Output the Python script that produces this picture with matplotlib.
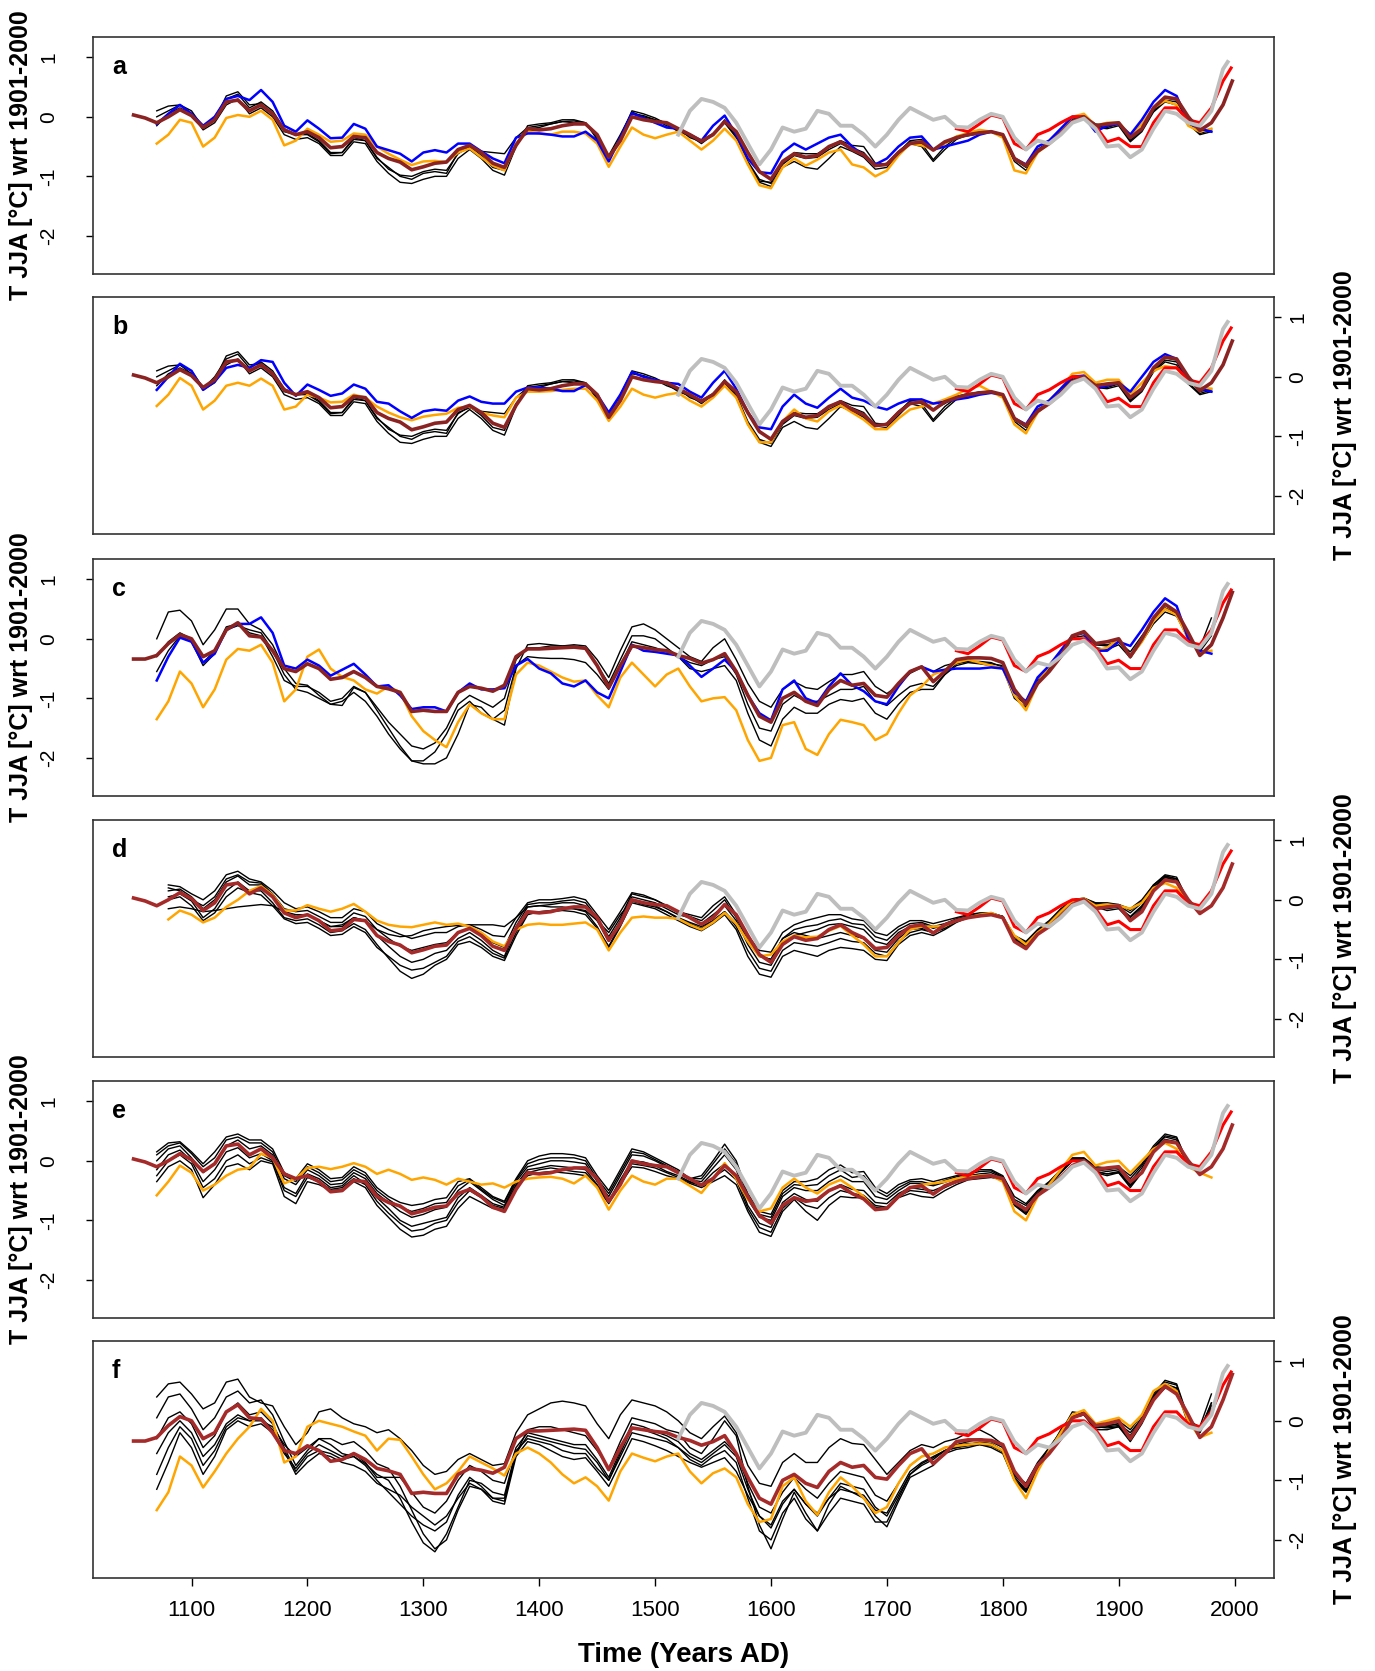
import numpy as np
import matplotlib
matplotlib.use("Agg")
import matplotlib.pyplot as plt

plt.rcParams["font.family"] = ["Liberation Sans", "DejaVu Sans"]


def span(start, vals, end=None):
    # decadal values starting at `start`; optional last year replaces final decade
    yr = start + 10 * np.arange(len(vals))
    if end is not None:
        yr[-1] = end
    return yr, np.array(vals, dtype=float)


# ---------------- shared series ----------------
# main reconstruction (panels a, b, d, e)
brown1 = [0.03, -0.02, -0.1, 0.0, 0.12, 0.02,
          -0.18, -0.05, 0.25, 0.28, 0.1, 0.2, 0.05, -0.22, -0.3, -0.25,
          -0.35, -0.52, -0.5, -0.33, -0.35, -0.6, -0.7, -0.76, -0.89, -0.84,
          -0.78, -0.76, -0.55, -0.48, -0.6, -0.78, -0.85, -0.48, -0.2, -0.22,
          -0.2, -0.15, -0.12, -0.12, -0.3, -0.68, -0.4, 0.0, -0.05, -0.08,
          -0.1, -0.2, -0.3, -0.41, -0.3, -0.08, -0.25, -0.6, -0.92, -1.05,
          -0.75, -0.62, -0.68, -0.65, -0.5, -0.42, -0.55, -0.64, -0.82, -0.8,
          -0.6, -0.45, -0.42, -0.56, -0.42, -0.35, -0.3, -0.27, -0.25, -0.3,
          -0.7, -0.82, -0.58, -0.45, -0.28, -0.08, 0.0, -0.15, -0.12, -0.1,
          -0.35, -0.2, 0.15, 0.33, 0.3, 0.0, -0.23, -0.1, 0.2, 0.6]
# main reconstruction (panels c, f)
brown2 = [-0.34, -0.34, -0.28, -0.08, 0.07, 0.0,
          -0.3, -0.2, 0.15, 0.27, 0.05, 0.03, -0.2, -0.5, -0.55, -0.42,
          -0.5, -0.68, -0.65, -0.55, -0.65, -0.8, -0.84, -0.9, -1.22, -1.2,
          -1.22, -1.22, -0.9, -0.8, -0.83, -0.88, -0.78, -0.3, -0.17, -0.17,
          -0.16, -0.15, -0.14, -0.16, -0.45, -0.82, -0.45, -0.12, -0.15, -0.18,
          -0.2, -0.28, -0.33, -0.41, -0.35, -0.25, -0.55, -0.95, -1.3, -1.4,
          -1.0, -0.9, -1.05, -1.12, -0.85, -0.7, -0.78, -0.75, -0.95, -0.98,
          -0.75, -0.55, -0.47, -0.72, -0.55, -0.35, -0.32, -0.32, -0.33, -0.4,
          -0.85, -1.1, -0.75, -0.55, -0.3, 0.05, 0.12, -0.08, -0.05, 0.0,
          -0.3, 0.0, 0.35, 0.58, 0.45, 0.1, -0.28, -0.1, 0.35, 0.78]
gray_vals = [-0.3, 0.1, 0.3, 0.25, 0.15, -0.1, -0.45, -0.8, -0.55,
             -0.18, -0.25, -0.2, 0.1, 0.05, -0.15, -0.15, -0.3, -0.5, -0.3,
             -0.05, 0.15, 0.05, -0.05, 0.0, -0.17, -0.18, -0.05, 0.05, 0.0,
             -0.35, -0.55, -0.4, -0.45, -0.3, -0.1, -0.03, -0.2, -0.5, -0.48,
             -0.68, -0.55, -0.2, 0.1, 0.05, -0.1, -0.15, 0.1, 0.8, 0.92]
red_vals = [-0.2, -0.25, -0.12, 0.03, -0.02,
            -0.45, -0.55, -0.3, -0.22, -0.1, 0.0, 0.0, -0.15, -0.42, -0.36,
            -0.5, -0.5, -0.1, 0.15, 0.15, -0.05, -0.1, 0.15, 0.6, 0.82]

# ---------------- panel a / b ----------------
orange_a = [-0.45, -0.3, -0.05, -0.1,
            -0.5, -0.35, -0.02, 0.03, 0.0, 0.1, -0.05, -0.48, -0.4, -0.2,
            -0.3, -0.42, -0.4, -0.28, -0.3, -0.5, -0.62, -0.72, -0.81, -0.75,
            -0.74, -0.76, -0.6, -0.53, -0.68, -0.82, -0.9, -0.45, -0.25, -0.28,
            -0.3, -0.25, -0.25, -0.28, -0.45, -0.84, -0.5, -0.18, -0.3, -0.36,
            -0.3, -0.25, -0.4, -0.55, -0.4, -0.2, -0.4, -0.8, -1.15, -1.2,
            -0.85, -0.7, -0.82, -0.72, -0.6, -0.55, -0.8, -0.85, -1.0, -0.9,
            -0.65, -0.45, -0.48, -0.55, -0.45, -0.33, -0.27, -0.22, -0.25, -0.35,
            -0.9, -0.95, -0.6, -0.45, -0.25, 0.0, 0.05, -0.15, -0.1, -0.1,
            -0.3, -0.12, 0.15, 0.27, 0.2, -0.15, -0.25, -0.2]
blue_a = [-0.12, 0.05, 0.2, 0.05,
          -0.15, 0.0, 0.3, 0.35, 0.28, 0.45, 0.25, -0.15, -0.25, -0.06,
          -0.2, -0.36, -0.35, -0.12, -0.2, -0.5, -0.56, -0.62, -0.75, -0.6,
          -0.56, -0.6, -0.45, -0.45, -0.58, -0.7, -0.78, -0.35, -0.28, -0.28,
          -0.3, -0.33, -0.33, -0.25, -0.4, -0.75, -0.35, 0.06, -0.02, -0.1,
          -0.18, -0.2, -0.3, -0.4, -0.15, 0.02, -0.3, -0.7, -0.93, -0.95,
          -0.6, -0.45, -0.55, -0.45, -0.35, -0.3, -0.5, -0.65, -0.8, -0.7,
          -0.5, -0.35, -0.33, -0.55, -0.5, -0.45, -0.4, -0.3, -0.25, -0.3,
          -0.7, -0.8, -0.5, -0.4, -0.2, 0.0, 0.0, -0.25, -0.15, -0.12,
          -0.3, -0.05, 0.25, 0.45, 0.35, -0.1, -0.2, -0.25]
black_a1 = [0.0, 0.1, 0.2, 0.1,
            -0.18, -0.05, 0.35, 0.42, 0.2, 0.22, 0.05, -0.25, -0.3, -0.28,
            -0.4, -0.6, -0.6, -0.38, -0.4, -0.7, -0.85, -1.0, -1.05, -0.95,
            -0.92, -0.95, -0.6, -0.52, -0.58, -0.6, -0.62, -0.35, -0.18, -0.15,
            -0.12, -0.08, -0.07, -0.1, -0.35, -0.65, -0.3, 0.08, 0.0, -0.05,
            -0.1, -0.2, -0.35, -0.42, -0.3, -0.05, -0.3, -0.75, -1.05, -1.12,
            -0.8, -0.65, -0.7, -0.68, -0.55, -0.45, -0.52, -0.6, -0.82, -0.78,
            -0.58, -0.42, -0.45, -0.72, -0.5, -0.35, -0.32, -0.28, -0.25, -0.32,
            -0.72, -0.85, -0.58, -0.42, -0.25, -0.05, 0.0, -0.15, -0.18, -0.12,
            -0.4, -0.22, 0.1, 0.28, 0.25, -0.1, -0.28, -0.22]
black_a2 = [-0.15, 0.05, 0.15, 0.05,
            -0.22, -0.1, 0.2, 0.3, 0.05, 0.15, 0.0, -0.3, -0.38, -0.35,
            -0.45, -0.65, -0.65, -0.42, -0.45, -0.75, -0.95, -1.1, -1.12, -1.05,
            -1.0, -1.0, -0.7, -0.55, -0.7, -0.9, -0.98, -0.5, -0.15, -0.12,
            -0.1, -0.05, -0.05, -0.1, -0.38, -0.72, -0.35, 0.1, 0.05, -0.02,
            -0.12, -0.25, -0.32, -0.45, -0.3, -0.1, -0.35, -0.8, -1.1, -1.17,
            -0.85, -0.75, -0.85, -0.88, -0.7, -0.5, -0.58, -0.68, -0.88, -0.85,
            -0.65, -0.45, -0.5, -0.75, -0.55, -0.38, -0.3, -0.25, -0.25, -0.33,
            -0.75, -0.9, -0.6, -0.45, -0.25, -0.05, 0.02, -0.18, -0.2, -0.15,
            -0.42, -0.25, 0.08, 0.25, 0.2, -0.12, -0.3, -0.25]
black_a3 = [0.1, 0.18, 0.2, 0.05,
            -0.2, 0.0, 0.3, 0.38, 0.15, 0.25, 0.1, -0.2, -0.3, -0.3,
            -0.42, -0.62, -0.6, -0.35, -0.4, -0.68, -0.88, -0.98, -1.0, -0.92,
            -0.88, -0.9, -0.62, -0.5, -0.65, -0.85, -0.9, -0.45, -0.2, -0.18,
            -0.12, -0.08, -0.1, -0.12, -0.33, -0.68, -0.38, 0.05, 0.02, -0.05,
            -0.15, -0.22, -0.3, -0.4, -0.28, -0.1, -0.32, -0.78, -1.08, -1.1,
            -0.78, -0.6, -0.62, -0.62, -0.5, -0.4, -0.48, -0.5, -0.78, -0.8,
            -0.6, -0.4, -0.38, -0.55, -0.45, -0.33, -0.28, -0.27, -0.25, -0.3,
            -0.7, -0.82, -0.55, -0.42, -0.22, -0.02, 0.02, -0.12, -0.15, -0.1,
            -0.38, -0.2, 0.12, 0.32, 0.28, -0.05, -0.25, -0.2]
blue_b = [-0.22, 0.0, 0.22, 0.1,
          -0.22, -0.08, 0.15, 0.2, 0.15, 0.28, 0.25, -0.1, -0.32, -0.13,
          -0.22, -0.32, -0.28, -0.13, -0.2, -0.42, -0.45, -0.58, -0.69, -0.58,
          -0.55, -0.57, -0.4, -0.33, -0.42, -0.45, -0.45, -0.25, -0.18, -0.18,
          -0.2, -0.24, -0.24, -0.14, -0.3, -0.6, -0.3, 0.08, 0.0, -0.05,
          -0.1, -0.12, -0.25, -0.35, -0.1, 0.1, -0.2, -0.6, -0.85, -0.88,
          -0.5, -0.3, -0.45, -0.52, -0.35, -0.2, -0.35, -0.4, -0.5, -0.55,
          -0.45, -0.38, -0.38, -0.45, -0.42, -0.38, -0.35, -0.3, -0.27, -0.3,
          -0.7, -0.8, -0.5, -0.4, -0.2, 0.0, 0.02, -0.2, -0.15, -0.1,
          -0.25, 0.0, 0.25, 0.38, 0.3, -0.05, -0.2, -0.25]
orange_b = [-0.49, -0.3, -0.02, -0.15,
            -0.55, -0.4, -0.15, -0.1, -0.15, -0.03, -0.15, -0.55, -0.5, -0.3,
            -0.35, -0.43, -0.42, -0.3, -0.35, -0.5, -0.6, -0.68, -0.73, -0.67,
            -0.64, -0.62, -0.52, -0.5, -0.6, -0.65, -0.68, -0.35, -0.25, -0.25,
            -0.24, -0.22, -0.2, -0.2, -0.4, -0.74, -0.5, -0.2, -0.3, -0.35,
            -0.3, -0.27, -0.4, -0.5, -0.35, -0.15, -0.35, -0.8, -1.1, -1.1,
            -0.75, -0.55, -0.7, -0.75, -0.58, -0.48, -0.6, -0.72, -0.88, -0.88,
            -0.7, -0.55, -0.5, -0.45, -0.38, -0.3, -0.2, -0.15, -0.25, -0.35,
            -0.8, -0.95, -0.6, -0.4, -0.2, 0.05, 0.08, -0.1, -0.05, -0.05,
            -0.3, -0.1, 0.1, 0.18, 0.15, -0.1, -0.18, -0.2]

# ---------------- panel c ----------------
blue_c = [-0.7, -0.3, 0.02, -0.05,
          -0.4, -0.25, 0.15, 0.25, 0.25, 0.36, 0.1, -0.45, -0.5, -0.35,
          -0.45, -0.62, -0.52, -0.42, -0.6, -0.8, -0.78, -0.95, -1.18, -1.15,
          -1.15, -1.22, -0.9, -0.75, -0.85, -0.85, -0.83, -0.45, -0.34, -0.5,
          -0.58, -0.75, -0.8, -0.7, -0.9, -1.0, -0.55, -0.1, -0.2, -0.22,
          -0.25, -0.28, -0.45, -0.64, -0.5, -0.35, -0.55, -0.95, -1.25, -1.37,
          -0.85, -0.7, -1.0, -1.08, -0.8, -0.58, -0.78, -0.88, -1.05, -1.1,
          -0.8, -0.55, -0.47, -0.55, -0.52, -0.5, -0.5, -0.5, -0.48, -0.5,
          -0.9, -1.05, -0.65, -0.45, -0.2, 0.05, 0.1, -0.2, -0.2, -0.05,
          -0.12, 0.15, 0.45, 0.68, 0.55, 0.0, -0.2, -0.25]
orange_c = [-1.35, -1.05, -0.55, -0.75,
            -1.15, -0.85, -0.35, -0.17, -0.2, -0.1, -0.4, -1.05, -0.85, -0.3,
            -0.18, -0.5, -0.64, -0.7, -0.85, -0.92, -0.8, -0.9, -1.3, -1.55,
            -1.7, -1.82, -1.4, -1.1, -1.25, -1.35, -1.35, -0.6, -0.4, -0.45,
            -0.55, -0.65, -0.72, -0.7, -0.95, -1.15, -0.65, -0.4, -0.6, -0.8,
            -0.6, -0.5, -0.8, -1.05, -1.0, -0.98, -1.2, -1.7, -2.05, -2.0,
            -1.45, -1.4, -1.85, -1.95, -1.6, -1.36, -1.4, -1.45, -1.7, -1.6,
            -1.25, -0.95, -0.8, -0.6, -0.52, -0.4, -0.35, -0.4, -0.45, -0.5,
            -0.95, -1.2, -0.75, -0.45, -0.2, 0.05, 0.1, -0.2, -0.15, 0.0,
            -0.3, -0.05, 0.3, 0.5, 0.4, 0.0, -0.25, -0.2]
black_c1 = [0.0, 0.45, 0.48, 0.3,
            -0.1, 0.15, 0.5, 0.5, 0.25, 0.15, -0.1, -0.5, -0.75, -0.78,
            -0.95, -1.1, -1.12, -0.82, -0.9, -1.2, -1.5, -1.8, -2.05, -2.1,
            -2.1, -2.0, -1.6, -1.1, -1.15, -1.35, -1.45, -0.5, -0.1, -0.08,
            -0.1, -0.12, -0.1, -0.12, -0.35, -0.65, -0.2, 0.2, 0.25, 0.15,
            0.0, -0.15, -0.3, -0.38, -0.15, 0.0, -0.35, -0.75, -1.05, -1.15,
            -0.85, -0.72, -0.82, -0.85, -0.72, -0.6, -0.6, -0.55, -0.8, -0.92,
            -0.78, -0.58, -0.48, -0.55, -0.45, -0.4, -0.38, -0.4, -0.42, -0.45,
            -0.9, -1.05, -0.7, -0.5, -0.25, 0.05, 0.1, -0.1, -0.1, -0.05,
            -0.22, 0.05, 0.32, 0.52, 0.42, 0.0, -0.15, 0.35]
black_c2 = [-0.3, -0.05, 0.1, 0.0,
            -0.4, -0.2, 0.2, 0.25, 0.1, 0.05, -0.3, -0.7, -0.8, -0.8,
            -0.9, -1.05, -1.0, -0.8, -0.9, -1.15, -1.4, -1.6, -1.8, -1.85,
            -1.75, -1.5, -1.1, -0.95, -1.05, -1.15, -1.0, -0.35, -0.15, -0.15,
            -0.12, -0.12, -0.12, -0.15, -0.45, -0.75, -0.35, 0.05, 0.05, 0.0,
            -0.15, -0.3, -0.4, -0.45, -0.35, -0.3, -0.6, -1.1, -1.5, -1.55,
            -1.1, -0.95, -1.05, -1.05, -0.95, -0.85, -0.85, -0.8, -1.05, -1.12,
            -0.95, -0.8, -0.75, -0.8, -0.6, -0.42, -0.38, -0.38, -0.4, -0.48,
            -0.95, -1.1, -0.72, -0.5, -0.25, 0.05, 0.1, -0.1, -0.12, -0.05,
            -0.3, 0.0, 0.3, 0.5, 0.42, 0.05, -0.2, 0.1]
black_c3 = [-0.55, -0.2, 0.05, -0.05,
            -0.45, -0.25, 0.15, 0.22, 0.15, 0.1, -0.2, -0.6, -0.85, -0.9,
            -1.0, -1.1, -1.05, -0.9, -1.05, -1.3, -1.6, -1.85, -2.05, -2.05,
            -1.9, -1.6, -1.2, -1.05, -1.25, -1.35, -1.2, -0.45, -0.3, -0.32,
            -0.33, -0.33, -0.35, -0.4, -0.6, -0.85, -0.45, -0.05, -0.1, -0.15,
            -0.22, -0.3, -0.5, -0.55, -0.5, -0.45, -0.7, -1.25, -1.7, -1.8,
            -1.35, -1.15, -1.25, -1.25, -1.1, -1.02, -1.05, -1.0, -1.25, -1.35,
            -1.1, -0.9, -0.85, -0.85, -0.6, -0.45, -0.4, -0.42, -0.45, -0.5,
            -1.0, -1.15, -0.75, -0.52, -0.28, 0.02, 0.05, -0.15, -0.18, -0.1,
            -0.32, -0.05, 0.25, 0.45, 0.38, 0.0, -0.22, 0.05]

# ---------------- panel d (1080-1970) ----------------
orange_d = [-0.33, -0.18, -0.25,
            -0.38, -0.3, -0.12, 0.0, 0.15, 0.23, 0.08, -0.18, -0.18, -0.09,
            -0.15, -0.2, -0.15, -0.07, -0.2, -0.35, -0.42, -0.45, -0.46, -0.42,
            -0.38, -0.42, -0.4, -0.45, -0.55, -0.7, -0.78, -0.5, -0.42, -0.4,
            -0.42, -0.42, -0.4, -0.38, -0.5, -0.85, -0.55, -0.3, -0.28, -0.3,
            -0.3, -0.32, -0.42, -0.5, -0.38, -0.22, -0.4, -0.7, -0.95, -0.92,
            -0.7, -0.6, -0.63, -0.62, -0.52, -0.44, -0.6, -0.75, -0.95, -0.95,
            -0.72, -0.5, -0.45, -0.45, -0.44, -0.35, -0.3, -0.25, -0.22, -0.3,
            -0.6, -0.75, -0.55, -0.4, -0.2, -0.02, 0.02, -0.1, -0.08, -0.1,
            -0.15, -0.05, 0.2, 0.28, 0.2, -0.05, -0.15]
black_d1 = [0.25, 0.22, 0.1,
            0.0, 0.15, 0.42, 0.48, 0.35, 0.3, 0.15, -0.05, -0.15, -0.12,
            -0.2, -0.3, -0.3, -0.15, -0.2, -0.4, -0.5, -0.58, -0.65, -0.6,
            -0.55, -0.55, -0.45, -0.42, -0.5, -0.6, -0.62, -0.3, -0.05, 0.0,
            0.0, 0.02, 0.05, 0.0, -0.25, -0.5, -0.2, 0.12, 0.08, 0.0,
            -0.1, -0.2, -0.25, -0.3, -0.1, 0.05, -0.25, -0.6, -0.85, -0.88,
            -0.55, -0.42, -0.35, -0.3, -0.25, -0.25, -0.32, -0.35, -0.55, -0.6,
            -0.45, -0.35, -0.35, -0.4, -0.35, -0.3, -0.25, -0.22, -0.22, -0.28,
            -0.6, -0.7, -0.5, -0.35, -0.15, 0.0, 0.03, -0.05, -0.05, -0.08,
            -0.15, 0.0, 0.25, 0.4, 0.35, -0.05, -0.15]
black_d2 = [0.15, 0.18, 0.05,
            -0.15, 0.0, 0.3, 0.4, 0.25, 0.25, 0.08, -0.2, -0.25, -0.25,
            -0.35, -0.45, -0.45, -0.3, -0.35, -0.6, -0.78, -0.95, -1.05, -1.0,
            -0.9, -0.85, -0.65, -0.55, -0.68, -0.85, -0.95, -0.45, -0.12, -0.1,
            -0.08, -0.05, -0.05, -0.1, -0.35, -0.7, -0.35, 0.05, 0.0, -0.05,
            -0.15, -0.25, -0.3, -0.4, -0.25, -0.1, -0.35, -0.75, -1.05, -1.1,
            -0.75, -0.6, -0.55, -0.5, -0.42, -0.4, -0.45, -0.5, -0.7, -0.75,
            -0.55, -0.45, -0.4, -0.48, -0.42, -0.33, -0.28, -0.25, -0.22, -0.3,
            -0.65, -0.78, -0.55, -0.4, -0.2, -0.02, 0.02, -0.08, -0.1, -0.1,
            -0.22, -0.05, 0.22, 0.38, 0.32, -0.05, -0.12]
black_d3 = [0.05, 0.1, -0.02,
            -0.3, -0.15, 0.15, 0.3, 0.15, 0.15, -0.05, -0.3, -0.35, -0.32,
            -0.42, -0.55, -0.52, -0.4, -0.5, -0.75, -0.98, -1.2, -1.32, -1.25,
            -1.1, -1.0, -0.75, -0.7, -0.8, -0.95, -1.02, -0.6, -0.25, -0.2,
            -0.18, -0.15, -0.15, -0.2, -0.45, -0.8, -0.45, -0.05, -0.1, -0.15,
            -0.25, -0.35, -0.45, -0.52, -0.4, -0.25, -0.5, -0.95, -1.25, -1.3,
            -0.95, -0.85, -0.9, -0.95, -0.85, -0.8, -0.82, -0.85, -1.0, -1.02,
            -0.75, -0.6, -0.55, -0.6, -0.5, -0.38, -0.3, -0.27, -0.25, -0.3,
            -0.68, -0.8, -0.58, -0.42, -0.22, -0.03, 0.0, -0.12, -0.18, -0.15,
            -0.35, -0.15, 0.18, 0.35, 0.3, -0.08, -0.18]
black_d4 = [-0.15, -0.12, -0.15,
            -0.2, -0.18, -0.15, -0.12, -0.1, -0.08, -0.1, -0.2, -0.28, -0.25,
            -0.35, -0.45, -0.42, -0.3, -0.35, -0.5, -0.58, -0.62, -0.6, -0.52,
            -0.48, -0.45, -0.43, -0.42, -0.42, -0.42, -0.45, -0.3, -0.12, -0.1,
            -0.12, -0.12, -0.15, -0.18, -0.35, -0.55, -0.25, -0.02, -0.08, -0.12,
            -0.2, -0.3, -0.38, -0.45, -0.35, -0.2, -0.4, -0.7, -0.95, -1.0,
            -0.65, -0.55, -0.6, -0.65, -0.6, -0.55, -0.6, -0.65, -0.85, -0.88,
            -0.65, -0.5, -0.48, -0.55, -0.45, -0.35, -0.3, -0.28, -0.25, -0.28,
            -0.62, -0.72, -0.52, -0.38, -0.18, 0.0, 0.02, -0.1, -0.12, -0.12,
            -0.28, -0.1, 0.2, 0.4, 0.35, -0.02, -0.12]
black_d5 = [0.2, 0.15, 0.0,
            -0.1, 0.05, 0.35, 0.42, 0.3, 0.28, 0.1, -0.15, -0.2, -0.18,
            -0.28, -0.38, -0.38, -0.22, -0.28, -0.5, -0.65, -0.78, -0.85, -0.8,
            -0.75, -0.72, -0.55, -0.48, -0.58, -0.72, -0.8, -0.38, -0.08, -0.05,
            -0.05, -0.02, 0.0, -0.05, -0.3, -0.62, -0.3, 0.1, 0.05, 0.0,
            -0.1, -0.22, -0.28, -0.35, -0.18, 0.0, -0.3, -0.68, -0.95, -1.0,
            -0.65, -0.5, -0.45, -0.42, -0.35, -0.32, -0.4, -0.42, -0.62, -0.68,
            -0.5, -0.4, -0.38, -0.45, -0.4, -0.32, -0.27, -0.23, -0.22, -0.28,
            -0.62, -0.75, -0.52, -0.38, -0.18, 0.0, 0.02, -0.06, -0.08, -0.08,
            -0.18, -0.02, 0.25, 0.42, 0.38, -0.02, -0.15]
black_d6 = [0.0, 0.05, -0.1,
            -0.35, -0.22, 0.05, 0.2, 0.12, 0.08, -0.1, -0.32, -0.4, -0.38,
            -0.48, -0.6, -0.58, -0.45, -0.55, -0.8, -0.95, -1.1, -1.18, -1.15,
            -1.05, -0.95, -0.7, -0.62, -0.75, -0.9, -0.98, -0.55, -0.22, -0.2,
            -0.2, -0.18, -0.2, -0.25, -0.48, -0.78, -0.42, -0.02, -0.05, -0.1,
            -0.2, -0.32, -0.4, -0.48, -0.35, -0.2, -0.45, -0.85, -1.15, -1.2,
            -0.85, -0.72, -0.75, -0.78, -0.72, -0.65, -0.7, -0.72, -0.9, -0.95,
            -0.7, -0.55, -0.5, -0.55, -0.48, -0.36, -0.3, -0.26, -0.24, -0.3,
            -0.66, -0.78, -0.56, -0.4, -0.2, -0.02, 0.0, -0.1, -0.15, -0.12,
            -0.3, -0.12, 0.2, 0.38, 0.32, -0.05, -0.15]

# ---------------- panel e ----------------
orange_e = [-0.58, -0.35, -0.08, -0.2,
            -0.5, -0.4, -0.25, -0.15, -0.12, 0.12, 0.05, -0.38, -0.3, -0.12,
            -0.1, -0.14, -0.1, -0.04, -0.1, -0.22, -0.15, -0.22, -0.32, -0.28,
            -0.32, -0.4, -0.3, -0.35, -0.4, -0.38, -0.45, -0.35, -0.3, -0.28,
            -0.27, -0.3, -0.38, -0.25, -0.45, -0.82, -0.5, -0.25, -0.35, -0.4,
            -0.3, -0.3, -0.42, -0.54, -0.3, -0.04, -0.3, -0.65, -0.85, -0.8,
            -0.45, -0.3, -0.45, -0.55, -0.4, -0.32, -0.45, -0.6, -0.82, -0.8,
            -0.6, -0.45, -0.4, -0.38, -0.35, -0.3, -0.27, -0.25, -0.25, -0.35,
            -0.85, -1.0, -0.6, -0.4, -0.15, 0.1, 0.15, -0.08, -0.02, 0.0,
            -0.2, 0.0, 0.2, 0.3, 0.2, -0.1, -0.2, -0.28]
black_e1 = [0.15, 0.3, 0.32, 0.15,
            -0.05, 0.15, 0.4, 0.45, 0.35, 0.35, 0.2, -0.2, -0.3, -0.05,
            -0.15, -0.3, -0.28, -0.1, -0.2, -0.45, -0.6, -0.7, -0.75, -0.72,
            -0.65, -0.62, -0.35, -0.3, -0.45, -0.6, -0.68, -0.3, 0.0, 0.08,
            0.12, 0.12, 0.1, 0.05, -0.25, -0.5, -0.15, 0.2, 0.15, 0.05,
            -0.05, -0.15, -0.3, -0.25, 0.0, 0.28, 0.0, -0.55, -0.85, -0.9,
            -0.5, -0.35, -0.35, -0.3, -0.15, -0.07, -0.2, -0.18, -0.45, -0.55,
            -0.4, -0.32, -0.3, -0.35, -0.3, -0.25, -0.2, -0.15, -0.15, -0.25,
            -0.6, -0.72, -0.5, -0.35, -0.15, 0.05, 0.05, -0.1, -0.12, -0.1,
            -0.25, -0.05, 0.25, 0.45, 0.4, -0.05, -0.15]
black_e2 = [0.0, 0.2, 0.25, 0.05,
            -0.2, -0.05, 0.25, 0.35, 0.2, 0.25, 0.1, -0.3, -0.4, -0.15,
            -0.25, -0.4, -0.38, -0.2, -0.3, -0.55, -0.7, -0.85, -0.95, -0.9,
            -0.82, -0.78, -0.5, -0.35, -0.5, -0.65, -0.75, -0.35, -0.1, -0.05,
            0.0, 0.0, -0.02, -0.05, -0.35, -0.6, -0.25, 0.1, 0.08, 0.0,
            -0.1, -0.2, -0.32, -0.35, -0.12, 0.1, -0.15, -0.65, -0.95, -1.0,
            -0.6, -0.45, -0.5, -0.5, -0.35, -0.25, -0.35, -0.35, -0.6, -0.65,
            -0.5, -0.38, -0.38, -0.42, -0.36, -0.3, -0.25, -0.22, -0.2, -0.28,
            -0.68, -0.8, -0.55, -0.38, -0.18, 0.02, 0.02, -0.15, -0.18, -0.15,
            -0.35, -0.12, 0.2, 0.4, 0.35, -0.08, -0.18]
black_e3 = [-0.35, -0.1, 0.0, -0.15,
            -0.62, -0.4, -0.1, -0.05, -0.15, 0.0, -0.05, -0.6, -0.72, -0.35,
            -0.4, -0.5, -0.48, -0.35, -0.45, -0.75, -0.95, -1.15, -1.28, -1.25,
            -1.15, -1.1, -0.8, -0.6, -0.7, -0.8, -0.82, -0.45, -0.25, -0.2,
            -0.18, -0.2, -0.22, -0.25, -0.45, -0.72, -0.4, -0.1, -0.12, -0.18,
            -0.25, -0.3, -0.38, -0.45, -0.35, -0.25, -0.4, -0.85, -1.2, -1.27,
            -0.85, -0.65, -0.85, -1.0, -0.75, -0.6, -0.62, -0.62, -0.78, -0.8,
            -0.62, -0.55, -0.6, -0.62, -0.5, -0.4, -0.32, -0.3, -0.28, -0.32,
            -0.75, -0.9, -0.6, -0.42, -0.2, 0.0, 0.0, -0.2, -0.25, -0.2,
            -0.45, -0.2, 0.15, 0.32, 0.3, -0.08, -0.2]
black_e4 = [-0.15, 0.1, 0.18, 0.0,
            -0.35, -0.15, 0.15, 0.22, 0.05, 0.12, 0.0, -0.45, -0.55, -0.22,
            -0.3, -0.45, -0.42, -0.25, -0.38, -0.62, -0.8, -1.0, -1.1, -1.05,
            -1.0, -0.95, -0.62, -0.45, -0.58, -0.72, -0.78, -0.4, -0.15, -0.12,
            -0.08, -0.1, -0.12, -0.15, -0.4, -0.68, -0.32, 0.0, -0.02, -0.08,
            -0.18, -0.25, -0.35, -0.4, -0.2, -0.05, -0.25, -0.75, -1.05, -1.12,
            -0.7, -0.55, -0.65, -0.68, -0.5, -0.4, -0.48, -0.5, -0.7, -0.72,
            -0.55, -0.45, -0.48, -0.5, -0.42, -0.33, -0.28, -0.25, -0.24, -0.3,
            -0.72, -0.85, -0.58, -0.4, -0.2, 0.0, 0.0, -0.18, -0.22, -0.18,
            -0.4, -0.18, 0.18, 0.36, 0.32, -0.06, -0.2]
black_e5 = [0.1, 0.25, 0.3, 0.12,
            -0.1, 0.05, 0.35, 0.4, 0.3, 0.3, 0.15, -0.25, -0.35, -0.1,
            -0.2, -0.35, -0.32, -0.15, -0.25, -0.5, -0.65, -0.78, -0.85, -0.8,
            -0.72, -0.7, -0.42, -0.32, -0.48, -0.62, -0.7, -0.32, -0.05, 0.02,
            0.05, 0.05, 0.05, 0.0, -0.3, -0.55, -0.2, 0.15, 0.12, 0.02,
            -0.08, -0.18, -0.3, -0.3, -0.05, 0.2, -0.05, -0.6, -0.9, -0.95,
            -0.55, -0.4, -0.42, -0.4, -0.25, -0.15, -0.28, -0.25, -0.5, -0.6,
            -0.45, -0.35, -0.35, -0.4, -0.33, -0.27, -0.22, -0.18, -0.17, -0.27,
            -0.65, -0.75, -0.52, -0.36, -0.16, 0.04, 0.04, -0.12, -0.15, -0.12,
            -0.3, -0.08, 0.22, 0.42, 0.38, -0.06, -0.16]
black_e6 = [-0.25, 0.0, 0.1, -0.05,
            -0.45, -0.3, 0.0, 0.1, -0.05, 0.05, -0.02, -0.5, -0.6, -0.28,
            -0.35, -0.48, -0.45, -0.3, -0.4, -0.68, -0.88, -1.05, -1.18, -1.15,
            -1.05, -1.0, -0.7, -0.5, -0.62, -0.75, -0.8, -0.42, -0.2, -0.15,
            -0.12, -0.15, -0.18, -0.2, -0.42, -0.7, -0.35, -0.05, -0.08, -0.12,
            -0.2, -0.28, -0.36, -0.42, -0.28, -0.15, -0.32, -0.8, -1.12, -1.2,
            -0.8, -0.62, -0.75, -0.8, -0.62, -0.5, -0.55, -0.58, -0.75, -0.78,
            -0.6, -0.5, -0.52, -0.55, -0.45, -0.36, -0.3, -0.27, -0.26, -0.31,
            -0.73, -0.88, -0.6, -0.41, -0.2, 0.0, 0.0, -0.18, -0.22, -0.2,
            -0.42, -0.2, 0.16, 0.34, 0.3, -0.08, -0.2]

# ---------------- panel f ----------------
orange_f = [-1.5, -1.2, -0.6, -0.75,
            -1.12, -0.85, -0.55, -0.3, -0.1, 0.2, 0.0, -0.7, -0.6, -0.1,
            0.0, -0.05, -0.1, -0.18, -0.25, -0.5, -0.3, -0.32, -0.6, -0.9,
            -1.15, -1.05, -0.85, -0.6, -0.7, -0.8, -0.92, -0.55, -0.45, -0.55,
            -0.7, -0.9, -1.05, -0.95, -1.1, -1.34, -0.85, -0.55, -0.62, -0.68,
            -0.6, -0.55, -0.85, -1.05, -0.88, -0.8, -0.95, -1.4, -1.7, -1.65,
            -1.1, -0.95, -1.35, -1.58, -1.2, -0.95, -1.1, -1.3, -1.55, -1.45,
            -1.05, -0.75, -0.6, -0.55, -0.45, -0.42, -0.4, -0.38, -0.4, -0.5,
            -1.0, -1.3, -0.85, -0.5, -0.2, 0.1, 0.18, -0.05, 0.0, 0.05,
            -0.1, 0.1, 0.5, 0.62, 0.5, 0.0, -0.28, -0.2]
black_f1 = [0.4, 0.62, 0.65, 0.45,
            0.2, 0.3, 0.65, 0.7, 0.4, 0.3, 0.25, -0.1, -0.4, -0.2,
            0.15, 0.2, 0.05, -0.05, -0.1, -0.2, -0.15, -0.3, -0.5, -0.75,
            -0.9, -0.85, -0.65, -0.55, -0.65, -0.75, -0.72, -0.2, 0.1, 0.2,
            0.3, 0.33, 0.3, 0.25, -0.05, -0.3, 0.1, 0.35, 0.3, 0.25,
            0.15, 0.0, -0.2, -0.3, -0.1, 0.08, -0.2, -0.75, -1.05, -1.1,
            -0.7, -0.55, -0.7, -0.7, -0.45, -0.3, -0.38, -0.4, -0.65, -0.9,
            -0.7, -0.5, -0.4, -0.45, -0.35, -0.3, -0.2, -0.15, -0.25, -0.4,
            -0.9, -1.05, -0.7, -0.45, -0.2, 0.15, 0.12, -0.05, -0.08, -0.05,
            -0.25, 0.05, 0.42, 0.65, 0.6, 0.0, -0.1, 0.45]
black_f2 = [0.05, 0.4, 0.45, 0.2,
            -0.15, 0.05, 0.4, 0.5, 0.3, 0.35, 0.1, -0.35, -0.75, -0.5,
            -0.3, -0.3, -0.4, -0.35, -0.5, -0.72, -0.8, -1.1, -1.5, -1.9,
            -2.15, -2.0, -1.5, -1.1, -1.15, -1.3, -1.35, -0.55, -0.15, -0.1,
            -0.1, -0.15, -0.2, -0.25, -0.5, -0.8, -0.35, 0.05, 0.0, -0.05,
            -0.15, -0.2, -0.45, -0.55, -0.3, 0.0, -0.25, -1.1, -1.75, -2.15,
            -1.65, -1.2, -1.55, -1.85, -1.4, -1.1, -1.2, -1.3, -1.6, -1.78,
            -1.35, -0.95, -0.85, -0.75, -0.55, -0.48, -0.45, -0.4, -0.45, -0.55,
            -1.0, -1.15, -0.8, -0.5, -0.15, 0.1, 0.1, -0.15, -0.15, -0.1,
            -0.35, -0.05, 0.35, 0.55, 0.5, -0.05, -0.2, 0.3]
black_f3 = [-0.3, 0.05, 0.15, -0.05,
            -0.45, -0.25, 0.15, 0.3, 0.1, 0.15, -0.05, -0.45, -0.85, -0.6,
            -0.5, -0.55, -0.65, -0.6, -0.72, -0.9, -1.0, -1.3, -1.7, -2.05,
            -2.2, -1.9, -1.45, -1.0, -1.05, -1.2, -1.25, -0.5, -0.3, -0.35,
            -0.4, -0.5, -0.55, -0.55, -0.8, -1.0, -0.6, -0.2, -0.25, -0.3,
            -0.35, -0.45, -0.65, -0.75, -0.6, -0.5, -0.7, -1.3, -1.85, -2.0,
            -1.55, -1.3, -1.65, -1.85, -1.55, -1.3, -1.35, -1.4, -1.7, -1.7,
            -1.3, -0.9, -0.75, -0.65, -0.5, -0.45, -0.42, -0.4, -0.42, -0.52,
            -1.0, -1.2, -0.8, -0.5, -0.2, 0.05, 0.1, -0.12, -0.1, -0.08,
            -0.3, 0.0, 0.38, 0.58, 0.52, 0.0, -0.2, 0.2]
black_f4 = [-0.55, -0.2, 0.0, -0.2,
            -0.6, -0.4, -0.05, 0.1, 0.0, 0.05, -0.15, -0.5, -0.9, -0.7,
            -0.55, -0.6, -0.7, -0.75, -0.85, -1.05, -1.15, -1.25, -1.45, -1.6,
            -1.75, -1.6, -1.3, -1.05, -1.15, -1.35, -1.4, -0.6, -0.35, -0.4,
            -0.5, -0.6, -0.65, -0.62, -0.85, -1.1, -0.7, -0.3, -0.35, -0.42,
            -0.5, -0.6, -0.7, -0.78, -0.7, -0.62, -0.85, -1.25, -1.6, -1.75,
            -1.35, -1.15, -1.4, -1.55, -1.3, -1.15, -1.2, -1.25, -1.5, -1.55,
            -1.2, -0.85, -0.7, -0.6, -0.5, -0.42, -0.38, -0.38, -0.4, -0.5,
            -0.95, -1.15, -0.78, -0.5, -0.2, 0.08, 0.12, -0.1, -0.08, -0.05,
            -0.2, 0.05, 0.4, 0.62, 0.55, 0.05, -0.15, 0.25]
black_f5 = [-1.15, -0.7, -0.2, -0.45,
            -0.9, -0.6, -0.15, 0.0, -0.1, -0.05, -0.2, -0.55, -0.8, -0.55,
            -0.4, -0.5, -0.6, -0.55, -0.7, -0.95, -0.95, -0.95, -1.2, -1.45,
            -1.55, -1.35, -1.0, -0.75, -0.85, -1.0, -1.05, -0.45, -0.2, -0.25,
            -0.3, -0.35, -0.4, -0.4, -0.65, -0.95, -0.5, -0.05, -0.1, -0.18,
            -0.25, -0.35, -0.55, -0.65, -0.5, -0.35, -0.55, -1.05, -1.45, -1.55,
            -1.2, -0.95, -1.15, -1.3, -1.05, -0.85, -0.9, -0.95, -1.25, -1.35,
            -1.05, -0.75, -0.6, -0.55, -0.45, -0.4, -0.35, -0.3, -0.35, -0.45,
            -0.92, -1.1, -0.75, -0.45, -0.18, 0.1, 0.15, -0.05, -0.05, 0.0,
            -0.15, 0.1, 0.45, 0.68, 0.62, 0.05, -0.15, 0.3]
black_f6 = [-0.9, -0.45, -0.1, -0.3,
            -0.75, -0.5, -0.1, 0.05, 0.0, 0.0, -0.1, -0.4, -0.6, -0.45,
            -0.3, -0.4, -0.55, -0.6, -0.75, -1.0, -1.2, -1.4, -1.6, -1.75,
            -1.85, -1.7, -1.25, -0.95, -1.1, -1.3, -1.3, -0.55, -0.25, -0.3,
            -0.35, -0.4, -0.45, -0.48, -0.7, -1.0, -0.55, -0.12, -0.15, -0.22,
            -0.3, -0.45, -0.6, -0.7, -0.55, -0.4, -0.6, -1.15, -1.6, -1.8,
            -1.4, -1.15, -1.4, -1.6, -1.3, -1.05, -1.1, -1.15, -1.45, -1.6,
            -1.25, -0.9, -0.72, -0.62, -0.5, -0.45, -0.4, -0.36, -0.38, -0.5,
            -0.98, -1.18, -0.8, -0.5, -0.2, 0.05, 0.1, -0.1, -0.12, -0.1,
            -0.3, -0.02, 0.35, 0.6, 0.55, 0.0, -0.18, 0.2]

GRAY = span(1520, gray_vals, end=1994)
RED = span(1760, red_vals, end=1997)
B1 = span(1050, brown1, end=1998)
B2 = span(1050, brown2, end=1998)

panels = [
    dict(tag="a", side="left", brown=B1, bcol="#8B2323", blue=span(1070, blue_a),
         orange=span(1070, orange_a),
         blacks=[span(1070, v) for v in (black_a1, black_a2, black_a3)]),
    dict(tag="b", side="right", brown=B1, bcol="#8B2323", blue=span(1070, blue_b),
         orange=span(1070, orange_b),
         blacks=[span(1070, v) for v in (black_a1, black_a2, black_a3)]),
    dict(tag="c", side="left", brown=B2, bcol="#8B2323", blue=span(1070, blue_c),
         orange=span(1070, orange_c),
         blacks=[span(1070, v) for v in (black_c1, black_c2, black_c3)]),
    dict(tag="d", side="right", brown=B1, bcol="#A52A2A", blue=None,
         orange=span(1080, orange_d),
         blacks=[span(1080, v) for v in (black_d1, black_d2, black_d3,
                                          black_d4, black_d5, black_d6)]),
    dict(tag="e", side="left", brown=B1, bcol="#A52A2A", blue=None,
         orange=span(1070, orange_e),
         blacks=[span(1070, v) for v in (black_e1, black_e2, black_e3,
                                          black_e4, black_e5, black_e6)]),
    dict(tag="f", side="right", brown=B2, bcol="#A52A2A", blue=None,
         orange=span(1070, orange_f),
         blacks=[span(1070, v) for v in (black_f1, black_f2, black_f3,
                                          black_f4, black_f5, black_f6)]),
]

W, H = 1375, 1671
x0, x1 = 93, 1274
tops = [37, 297, 559, 820, 1081, 1341]
ph = 237
ylab = "T JJA [°C] wrt 1901-2000"

fig = plt.figure(figsize=(W / 100, H / 100), dpi=100)

for i, p in enumerate(panels):
    ax = fig.add_axes([x0 / W, 1 - (tops[i] + ph) / H, (x1 - x0) / W, ph / H])
    for yr, v in p["blacks"]:
        ax.plot(yr, v, color="black", lw=1.0)
    ax.plot(*p["orange"], color="#FFA500", lw=1.8)
    if p["blue"] is not None:
        ax.plot(*p["blue"], color="#0000FF", lw=1.8)
    ax.plot(*RED, color="#FF0000", lw=2.2)
    ax.plot(*p["brown"], color=p["bcol"], lw=2.6)
    ax.plot(*GRAY, color="#BEBEBE", lw=2.8)

    ax.set_xlim(1015, 2034)
    ax.set_ylim(-2.64, 1.34)
    ax.set_yticks([-2, -1, 0, 1])
    ax.set_yticklabels(["-2", "-1", "0", "1"], fontsize=15)
    for sp in ax.spines.values():
        sp.set_linewidth(1.2)
        sp.set_color("#333333")

    yc = 1 - (tops[i] + ph / 2) / H
    if p["side"] == "left":
        ax.yaxis.tick_left()
        ax.tick_params(axis="y", length=5, width=1, pad=27)
        fig.text(21 / W, yc, ylab, rotation=90, ha="center", va="center",
                 fontsize=18, fontweight="bold")
    else:
        ax.yaxis.tick_right()
        ax.tick_params(axis="y", length=5, width=1, pad=12)
        fig.text(1345 / W, yc, ylab, rotation=90, ha="center", va="center",
                 fontsize=18, fontweight="bold")
    for lab in ax.get_yticklabels():
        lab.set_rotation(90)
        lab.set_va("center")
        lab.set_ha("center")

    if p["tag"] == "f":
        ax.set_xticks(np.arange(1100, 2001, 100))
        ax.tick_params(axis="x", length=6, width=1, pad=10, labelsize=16)
    else:
        ax.set_xticks([])

    ax.text(0.016, 0.875, p["tag"], transform=ax.transAxes, fontsize=18,
            fontweight="bold", ha="left", va="center")

fig.text((x0 + x1) / 2 / W, 1 - 1655 / H, "Time (Years AD)", ha="center",
         va="center", fontsize=20, fontweight="bold")

fig.savefig("out.png", dpi=100)
